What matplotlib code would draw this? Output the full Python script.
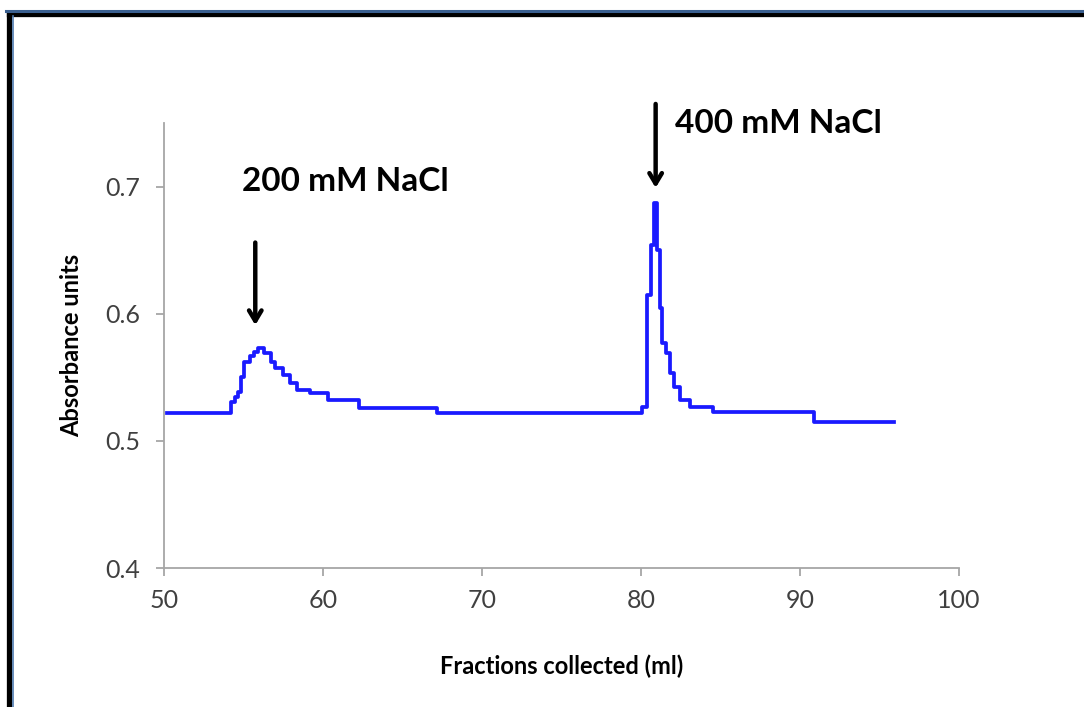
import numpy as np
import matplotlib.pyplot as plt
from matplotlib.lines import Line2D

plt.rcParams['font.family'] = ['Lato', 'DejaVu Sans']

# step breakpoints (ml, absorbance)
fraction_ml = [50.2, 54.2, 54.45, 54.65, 54.85, 55.05, 55.4, 55.65, 55.9,
               56.3, 56.7, 57.0, 57.5, 57.95, 58.35, 59.2, 60.3, 62.25,
               67.2, 80.05, 80.38, 80.6, 80.8, 81.0, 81.2, 81.33, 81.6,
               81.85, 82.05, 82.45, 83.1, 84.5, 90.85, 95.9]
absorbance = [0.5216, 0.5307, 0.5345, 0.5386, 0.5504, 0.5622, 0.5665, 0.5700, 0.5727,
              0.5690, 0.5622, 0.5570, 0.5517, 0.5452, 0.5399, 0.5373, 0.5321, 0.5256,
              0.5216, 0.5268, 0.6146, 0.6539, 0.6867, 0.6500, 0.6042, 0.5767, 0.5688,
              0.5531, 0.5425, 0.5321, 0.5268, 0.5229, 0.5150, 0.5150]

x_ticks = [50, 60, 70, 80, 90, 100]
y_ticks = [0.4, 0.5, 0.6, 0.7]

# elution marks: label, arrow x, arrow top, arrow tip, text x, text y
marks = [("200 mM NaCl", 55.74, 0.656, 0.591, 54.9, 0.704),
         ("400 mM NaCl", 80.92, 0.765, 0.699, 82.15, 0.750)]

fig = plt.figure(figsize=(10.84, 7.07), dpi=100)
ax = fig.add_axes([0.1513, 0.1966, 0.7334, 0.6294])

ax.plot(fraction_ml, absorbance, drawstyle='steps-post', color='#1a1aff', lw=2.7)

ax.set_xlim(50, 100)
ax.set_ylim(0.4, 0.75)
ax.set_xticks(x_ticks)
ax.set_yticks(y_ticks)
ax.set_yticklabels(["%.1f" % v for v in y_ticks])

for s in ['top', 'right']:
    ax.spines[s].set_visible(False)
for s in ['left', 'bottom']:
    ax.spines[s].set_color('#a6a6a6')
    ax.spines[s].set_linewidth(1.3)
ax.tick_params(axis='both', colors='#a6a6a6', length=6, width=1.3,
               labelcolor='#404040', labelsize=18)
ax.tick_params(axis='y', pad=11)
ax.tick_params(axis='x', pad=9)

ax.set_xlabel("Fractions collected (ml)", fontsize=17, fontweight='bold', labelpad=31)
ax.set_ylabel("Absorbance units", fontsize=17, fontweight='bold', labelpad=16)

for label, ax_x, y0, y1, tx, ty in marks:
    ax.annotate("", xy=(ax_x, y1), xytext=(ax_x, y0), annotation_clip=False,
                arrowprops=dict(arrowstyle='->,head_length=0.75,head_width=0.45',
                                color='black', lw=3.2, shrinkA=0, shrinkB=0))
    ax.text(tx, ty, label, fontsize=24, fontweight='bold', va='center',
            ha='left', clip_on=False)

# picture frame, top and left edges only
W, H = 1084.0, 707.0
fig.add_artist(Line2D([9 / W, 1.0], [1 - 13.5 / H, 1 - 13.5 / H], color='black', lw=3.8))
fig.add_artist(Line2D([9 / W, 9 / W], [0.0, 1 - 13.5 / H], color='black', lw=3.8))
fig.add_artist(Line2D([6 / W, 1.0], [1 - 10.5 / H, 1 - 10.5 / H], color='#3a5f8f', lw=2.2))
fig.add_artist(Line2D([12.5 / W, 12.5 / W], [0.0, 1 - 16 / H], color='#4f7bb0', lw=1.2))

fig.savefig("out.png", dpi=100)
